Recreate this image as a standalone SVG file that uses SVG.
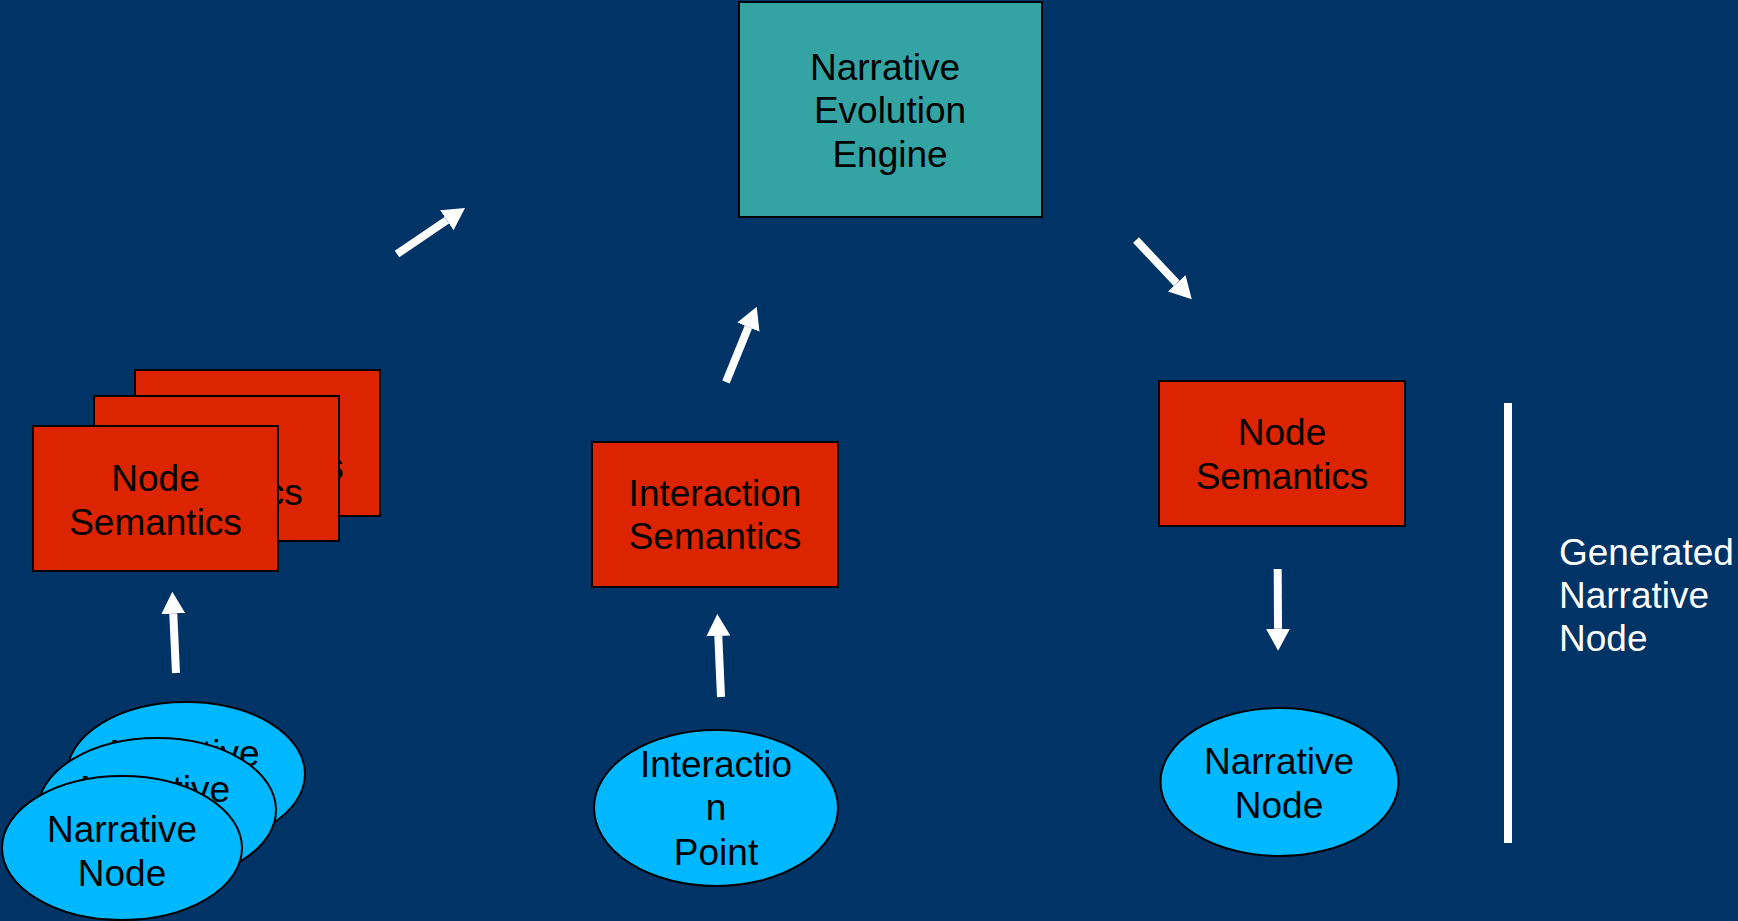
<svg xmlns="http://www.w3.org/2000/svg" width="1738" height="921" viewBox="0 0 1738 921">
  <style>
    .sem { fill: #DC2400; stroke: #000; stroke-width: 2; }
    .engine { fill: #33A3A3; stroke: #000; stroke-width: 2; }
    .nnode { fill: #00B8FF; stroke: #000; stroke-width: 2; }
    .lbl { font-family: "Liberation Sans", Arial, sans-serif; font-size: 37px; fill: #000; text-anchor: middle; }
    .side { font-family: "Liberation Sans", Arial, sans-serif; font-size: 37px; fill: #fff; }
    .conn { stroke: #fff; stroke-width: 8; fill: none; marker-end: url(#head); }
  </style>
  <defs>
    <marker id="head" markerUnits="userSpaceOnUse" viewBox="0 0 22 24" refX="0" refY="12" markerWidth="22" markerHeight="24" orient="auto">
      <path d="M0,0 L22,12 L0,24 Z" fill="#fff"/>
    </marker>
  </defs>

  <rect width="1738" height="921" fill="#003366"/>

  <!-- engine at the top -->
  <g id="engine">
    <rect class="engine" x="739" y="2" width="303" height="215"/>
    <text class="lbl" x="885" y="80">Narrative</text>
    <text class="lbl" x="890" y="123">Evolution</text>
    <text class="lbl" x="890" y="167">Engine</text>
  </g>

  <!-- stacked node semantics, back to front -->
  <g id="node-semantics-3">
    <rect class="sem" x="135" y="370" width="245" height="146"/>
    <text class="lbl" x="257.5" y="435">Node</text>
    <text class="lbl" x="257.5" y="479">Semantics</text>
  </g>
  <g id="node-semantics-2">
    <rect class="sem" x="94" y="396" width="245" height="145"/>
    <text class="lbl" x="216.5" y="461">Node</text>
    <text class="lbl" x="216.5" y="505">Semantics</text>
  </g>
  <g id="node-semantics-1">
    <rect class="sem" x="33" y="426" width="245" height="145"/>
    <text class="lbl" x="155.5" y="491">Node</text>
    <text class="lbl" x="155.5" y="535">Semantics</text>
  </g>

  <!-- stacked narrative nodes, back to front -->
  <g id="narrative-node-3">
    <ellipse class="nnode" cx="186" cy="774" rx="119" ry="72"/>
    <text class="lbl" x="184.5" y="766">Narrative</text>
    <text class="lbl" x="184.5" y="809">Node</text>
  </g>
  <g id="narrative-node-2">
    <ellipse class="nnode" cx="157" cy="810" rx="119" ry="72"/>
    <text class="lbl" x="155" y="802">Narrative</text>
    <text class="lbl" x="155" y="845">Node</text>
  </g>
  <g id="narrative-node-1">
    <ellipse class="nnode" cx="122" cy="848" rx="120" ry="72"/>
    <text class="lbl" x="122" y="842">Narrative</text>
    <text class="lbl" x="122" y="886">Node</text>
  </g>

  <!-- interaction column -->
  <g id="interaction-semantics">
    <rect class="sem" x="592" y="442" width="246" height="145"/>
    <text class="lbl" x="715" y="506">Interaction</text>
    <text class="lbl" x="715" y="549">Semantics</text>
  </g>
  <g id="interaction-point">
    <ellipse class="nnode" cx="716" cy="808" rx="122" ry="78"/>
    <text class="lbl" x="716" y="777">Interactio</text>
    <text class="lbl" x="716" y="820">n</text>
    <text class="lbl" x="716" y="865">Point</text>
  </g>

  <!-- generated column -->
  <g id="generated-semantics">
    <rect class="sem" x="1159" y="381" width="246" height="145"/>
    <text class="lbl" x="1282" y="445">Node</text>
    <text class="lbl" x="1282" y="489">Semantics</text>
  </g>
  <g id="generated-node">
    <ellipse class="nnode" cx="1279.5" cy="782" rx="119" ry="74"/>
    <text class="lbl" x="1279" y="774">Narrative</text>
    <text class="lbl" x="1279" y="818">Node</text>
  </g>

  <!-- bracket and caption -->
  <g id="generated-caption">
    <rect x="1504" y="403" width="8" height="440" fill="#fff"/>
    <text class="side" x="1559" y="565">Generated</text>
    <text class="side" x="1559" y="608">Narrative</text>
    <text class="side" x="1559" y="651">Node</text>
  </g>

  <!-- connectors -->
  <g id="connectors">
    <line class="conn" x1="176" y1="673" x2="173.3" y2="613.7"/>
    <line class="conn" x1="721" y1="697" x2="718.3" y2="636"/>
    <line class="conn" x1="726" y1="382" x2="748.4" y2="327.1"/>
    <line class="conn" x1="397" y1="254" x2="446.8" y2="220.3"/>
    <line class="conn" x1="1136" y1="240" x2="1176.7" y2="283.3"/>
    <line class="conn" x1="1277.7" y1="569" x2="1278" y2="628.7"/>
  </g>
</svg>
